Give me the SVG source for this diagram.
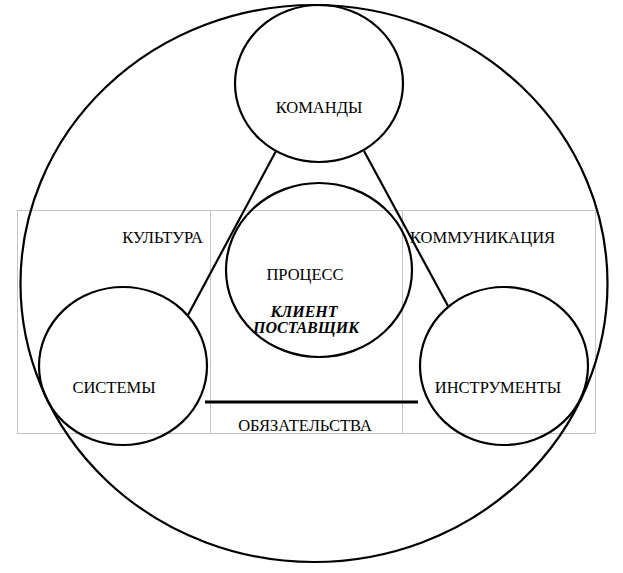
<svg xmlns="http://www.w3.org/2000/svg" width="623" height="573" viewBox="0 0 623 573">
<style>
.grid{fill:none;stroke:#c4c4c4;stroke-width:1}
.node{fill:none;stroke:#000;stroke-width:2.2}
.conn{stroke:#000;stroke-width:2.2;fill:none}
.bar{stroke:#000;stroke-width:3;fill:none}
text{font-family:"Liberation Serif","Times New Roman",serif;font-size:16.5px;fill:#000}
.bi{font-weight:bold;font-style:italic;font-size:16px}
</style>
<rect width="623" height="573" fill="#fff"/>
<g id="table">
<rect class="grid" x="17.5" y="210.5" width="578" height="223"/>
<line class="grid" x1="210.5" y1="210.5" x2="210.5" y2="433.5"/>
<line class="grid" x1="402.5" y1="210.5" x2="402.5" y2="433.5"/>
</g>
<g id="outer"><ellipse class="node" cx="314" cy="283.5" rx="293.5" ry="278.5"/></g>
<g id="connectors">
<line class="conn" x1="276" y1="151" x2="188" y2="315"/>
<line class="conn" x1="364" y1="151" x2="448" y2="306"/>
<line class="bar" x1="205" y1="402" x2="418" y2="402"/>
</g>
<g id="komandy"><ellipse class="node" cx="319" cy="83.5" rx="84" ry="78.5"/><text x="319" y="113" text-anchor="middle">КОМАНДЫ</text></g>
<g id="process"><ellipse class="node" cx="319" cy="270" rx="93" ry="87"/><text x="305" y="280" text-anchor="middle">ПРОЦЕСС</text><text class="bi" x="304" y="317" text-anchor="middle">КЛИЕНТ</text><text class="bi" x="306" y="333" text-anchor="middle">ПОСТАВЩИК</text></g>
<g id="sistemy"><ellipse class="node" cx="123" cy="366" rx="84" ry="79"/><text x="114" y="393" text-anchor="middle">СИСТЕМЫ</text></g>
<g id="instrumenty"><ellipse class="node" cx="504" cy="366" rx="84" ry="79"/><text x="498" y="393" text-anchor="middle">ИНСТРУМЕНТЫ</text></g>
<g id="labels">
<text x="203" y="243" text-anchor="end">КУЛЬТУРА</text>
<text x="410" y="243">КОММУНИКАЦИЯ</text>
<text x="305" y="431" text-anchor="middle">ОБЯЗАТЕЛЬСТВА</text>
</g>
</svg>
